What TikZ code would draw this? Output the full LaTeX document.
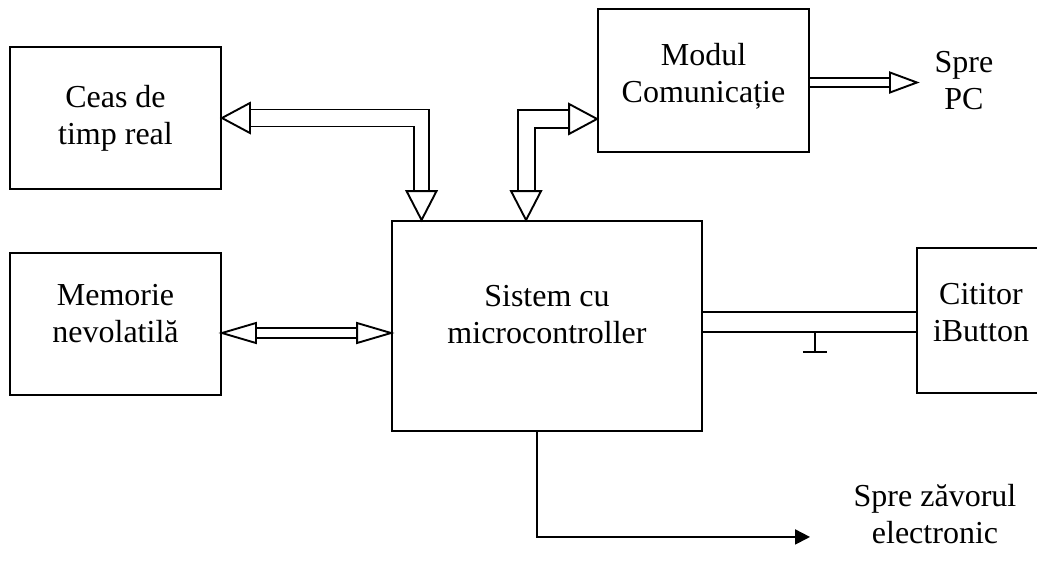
\documentclass[tikz,border=0pt]{standalone}
\usepackage{fontspec}
\setmainfont{Liberation Serif}
\usetikzlibrary{calc,arrows.meta}
\begin{document}
\begin{tikzpicture}[x=1pt,y=-1pt,
  every node/.style={font=\fontsize{32}{37}\selectfont, align=center},
  block/.style={draw, line width=1.9pt, inner sep=0pt},
  wire/.style={line width=1.9pt, line join=miter},
  head/.style={draw, line width=1.9pt, fill=white, line join=miter}]
\useasboundingbox (0,0) rectangle (1037,566);

% blocks
\node[block, minimum width=211pt, minimum height=142pt] (ceas) at (115.5,118) {Ceas de\\timp real};
\node[block, minimum width=211pt, minimum height=142pt, text depth=22pt] (mem) at (115.5,324) {Memorie\\nevolatilă};
\node[block, minimum width=310pt, minimum height=210pt, text depth=24pt] (mcu) at (547,326) {Sistem cu\\microcontroller};
\node[block, minimum width=211pt, minimum height=143pt, text depth=16pt] (modul) at (703.5,80.5) {Modul\\Comunicație};
\node[block, minimum width=128pt, minimum height=145pt, text depth=16pt] (cit) at (981,320.5) {Cititor\\iButton};
\node (pc) at (964,81) {Spre\\PC};
\node (lock) at (935,514) {Spre zăvorul\\electronic};

% bus: clock <-> microcontroller
\coordinate (a) at (ceas.east);
\coordinate (b) at ($(mcu.north west)+(30.5,0)$);
\coordinate (c) at (b |- a);
\draw[wire] ($(a)+(28,-8.5)$) -- ($(c)+(7.5,-8.5)$) -- ($(b)+(7.5,-29)$);
\draw[wire] ($(a)+(28,8.5)$) -- ($(c)+(-7.5,8.5)$) -- ($(b)+(-7.5,-29)$);
\draw[head] (a) -- ++(28,-15) -- ++(0,30) -- cycle;
\draw[head] (b) -- ++(-15,-29) -- ++(30,0) -- cycle;

% bus: communication module <-> microcontroller
\coordinate (d) at ($(modul.south west)+(0,-34)$);
\coordinate (e) at ($(mcu.north west)+(135,0)$);
\coordinate (f) at (e |- d);
\draw[wire] ($(d)+(-28,-9)$) -- ($(f)+(-8.5,-9)$) -- ($(e)+(-8.5,-29)$);
\draw[wire] ($(d)+(-28,9)$) -- ($(f)+(8.5,9)$) -- ($(e)+(8.5,-29)$);
\draw[head] (d) -- ++(-28,-15) -- ++(0,30) -- cycle;
\draw[head] (e) -- ++(-15,-29) -- ++(30,0) -- cycle;

% bus: memory <-> microcontroller
\coordinate (g) at ($(mem.east)+(0,9)$);
\coordinate (h) at (mcu.west |- g);
\draw[wire] ($(g)+(34,-5)$) -- ($(h)+(-34,-5)$);
\draw[wire] ($(g)+(34,5)$) -- ($(h)+(-34,5)$);
\draw[head] (g) -- ++(34,-10) -- ++(0,20) -- cycle;
\draw[head] (h) -- ++(-34,-10) -- ++(0,20) -- cycle;

% bus: communication module -> PC
\coordinate (m) at ($(modul.east)+(0,2)$);
\coordinate (pctip) at ($(m)+(107,0)$);
\draw[wire] ($(m)+(0,-4.5)$) -- ($(pctip)+(-27,-4.5)$);
\draw[wire] ($(m)+(0,4.5)$) -- ($(pctip)+(-27,4.5)$);
\draw[head] (pctip) -- ++(-27,-10) -- ++(0,20) -- cycle;

% iButton data line and ground
\coordinate (l1) at ($(mcu.east)+(0,-14)$);
\coordinate (l2) at ($(mcu.east)+(0,6)$);
\draw[wire] (l1) -- (l1 -| cit.west);
\draw[wire] (l2) -- (l2 -| cit.west);
\coordinate (gnd) at ($(l2)+(112,0)$);
\coordinate (gb) at ($(gnd)+(0,20)$);
\draw[wire] (gnd) -- (gb);
\draw[wire] ($(gb)+(-12,0)$) -- ($(gb)+(12,0)$);

% output to the electronic lock
\coordinate (o) at ($(mcu.south west)+(146,0)$);
\coordinate (locktip) at ($(o)+(273,105)$);
\draw[wire, -{Triangle[length=15pt,width=15pt]}] (o) |- (locktip);
\end{tikzpicture}
\end{document}
